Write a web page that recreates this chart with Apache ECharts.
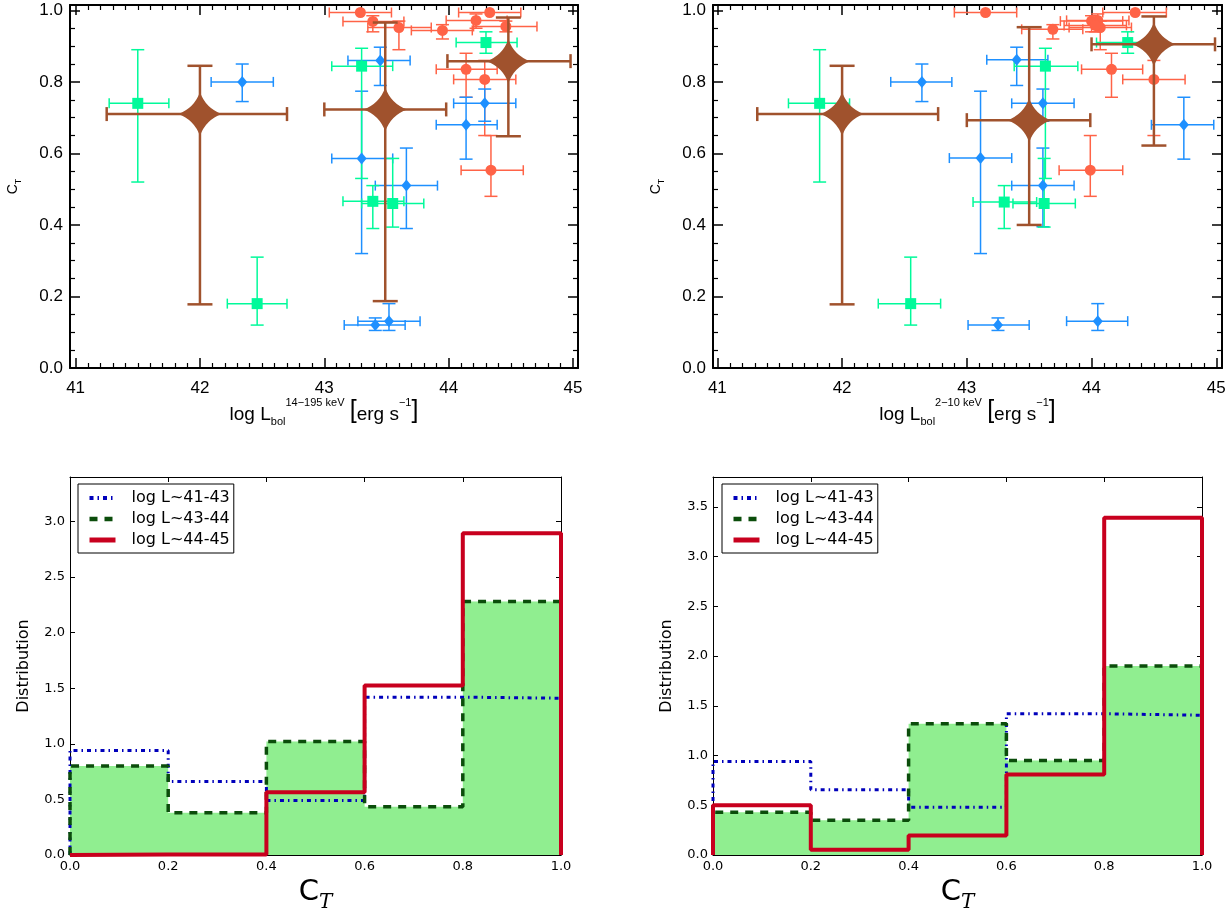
<!DOCTYPE html>
<html><head><meta charset="utf-8">
<script src="https://cdn.jsdelivr.net/npm/echarts/dist/echarts.min.js"></script>
<style>html,body{margin:0;padding:0;background:#fff}#c{width:1230px;height:914px}</style>
</head><body><div id="c"></div>
<script>
// ---------- DATA ----------
// scatter rows: [x, y, xLow, xHigh, yLow, yHigh]
const tlRed = [
  [43.29,0.994,43.04,43.54,0.994,0.994],[43.39,0.969,43.15,43.64,0.94,0.985],
  [43.60,0.952,43.35,43.86,0.89,0.97],[43.95,0.944,43.70,44.19,0.92,0.96],
  [44.33,0.994,44.08,44.58,0.994,0.994],[44.22,0.972,43.98,44.47,0.95,0.99],
  [44.46,0.955,44.20,44.71,0.94,0.97],[44.14,0.835,43.90,44.39,0.757,0.88],
  [44.29,0.807,44.04,44.54,0.65,0.86],[44.34,0.553,44.10,44.60,0.48,0.65]
];
const tlBlue = [
  [42.34,0.80,42.09,42.59,0.745,0.85],[43.45,0.86,43.19,43.69,0.79,0.897],
  [43.30,0.586,43.06,43.55,0.32,0.774],[43.66,0.51,43.41,43.91,0.39,0.615],
  [43.41,0.12,43.16,43.65,0.105,0.14],[43.52,0.131,43.27,43.77,0.105,0.18],
  [44.14,0.68,43.90,44.39,0.584,0.757],[44.29,0.74,44.04,44.54,0.69,0.78]
];
const tlGreen = [
  [41.50,0.74,41.27,41.75,0.52,0.89],[42.46,0.18,42.22,42.70,0.12,0.31],
  [43.30,0.844,43.06,43.55,0.53,0.894],[43.39,0.466,43.15,43.64,0.39,0.51],
  [43.55,0.46,43.30,43.80,0.394,0.586],[44.30,0.91,44.06,44.55,0.88,0.94]
];
const tlBrown = [
  [42.00,0.71,41.25,42.70,0.178,0.845],[43.49,0.723,43.00,43.98,0.187,0.966],
  [44.48,0.858,43.99,44.98,0.648,0.98]
];
const trRed = [
  [43.15,0.994,42.90,43.40,0.994,0.994],[43.69,0.947,43.44,43.93,0.92,0.96],
  [44.00,0.970,43.75,44.25,0.94,0.985],[44.05,0.972,43.80,44.30,0.95,0.99],
  [44.07,0.952,43.82,44.32,0.89,0.97],[44.03,0.958,43.78,44.28,0.94,0.97],
  [44.35,0.994,44.09,44.60,0.994,0.994],[44.16,0.835,43.92,44.41,0.757,0.88],
  [44.50,0.807,44.25,44.75,0.65,0.86],[43.99,0.553,43.74,44.25,0.48,0.65]
];
const trBlue = [
  [42.64,0.80,42.39,42.88,0.745,0.85],[43.40,0.862,43.16,43.65,0.79,0.897],
  [43.11,0.587,42.86,43.36,0.32,0.774],[43.61,0.51,43.36,43.86,0.395,0.615],
  [43.25,0.12,43.01,43.50,0.105,0.14],[44.05,0.131,43.80,44.29,0.105,0.18],
  [44.74,0.68,44.48,44.98,0.584,0.757],[43.61,0.74,43.36,43.86,0.69,0.78]
];
const trGreen = [
  [41.82,0.74,41.57,42.06,0.52,0.89],[42.55,0.18,42.29,42.79,0.12,0.31],
  [43.63,0.844,43.38,43.89,0.53,0.894],[43.30,0.464,43.05,43.56,0.39,0.51],
  [43.62,0.46,43.37,43.87,0.394,0.586],[44.29,0.91,44.04,44.54,0.88,0.94]
];
const trBrown = [
  [42.00,0.71,41.32,42.77,0.178,0.845],[43.50,0.693,43.00,43.99,0.40,0.953],
  [44.50,0.905,44.00,44.99,0.622,0.983]
];
// histograms
const binEdges = [0, 0.2, 0.4, 0.6, 0.8, 1.0];
const blHist41_43 = [0.94, 0.66, 0.49, 1.42, 1.41];
const blHist43_44 = [0.80, 0.38, 1.02, 0.435, 2.28];
const blHist44_45 = [0.005, 0.005, 0.565, 1.525, 2.895];
const brHist41_43 = [0.94, 0.655, 0.48, 1.42, 1.405];
const brHist43_44 = [0.43, 0.35, 1.32, 0.95, 1.90];
const brHist44_45 = [0.50, 0.053, 0.196, 0.81, 3.39];
// ticks
const topXTicks = [41, 42, 43, 44, 45];
const topYTicks = [0, 0.2, 0.4, 0.6, 0.8, 1.0];
const seriesNames = ['log L~41-43', 'log L~43-44', 'log L~44-45'];

// ---------- HELPERS ----------
const topXMinor = [], topYMinor = [];
for (let i = 410; i <= 450; i++) if (i % 10) topXMinor.push(i / 10);
for (let i = 0; i <= 20; i++) if (i % 4) topYMinor.push(i / 20);

const TF = 'Liberation Sans';
const BF = 'DejaVu Sans';
const HC = {blue: '#0000bb', green: '#0b4d0b', red: '#c8001e', fill: '#90ee90'};
const HDASH = {blue: [4, 4, 1.5, 4], green: [8, 7]};

function topAxes(gi, xName) {
  const xmin = gi === 0 ? 40.955 : 40.965;
  const xmax = gi === 0 ? 45.04 : 45.046;
  const base = {gridIndex: gi, type: 'value', min: xmin, max: xmax, splitLine: {show: false}};
  const xs = [
    Object.assign({}, base, {position: 'bottom',
      axisLine: {onZero: false, lineStyle: {color: '#000', width: 2}},
      axisTick: {inside: true, length: 10, customValues: topXTicks, lineStyle: {color: '#000', width: 1.5}},
      axisLabel: {customValues: topXTicks, fontSize: 17, fontFamily: TF, color: '#000', margin: 12},
      name: xName, nameLocation: 'middle', nameGap: 29,
      nameTextStyle: {rich: {
        n: {fontSize: 19, fontFamily: TF, color: '#000', lineHeight: 24, verticalAlign: 'bottom'},
        sub: {fontSize: 11, fontFamily: TF, color: '#000', verticalAlign: 'bottom', lineHeight: 12, padding: [0,0,-4,0]},
        sup: {fontSize: 11, fontFamily: TF, color: '#000', verticalAlign: 'top', lineHeight: 12},
        br: {fontSize: 25, fontFamily: TF, color: '#000', lineHeight: 26, verticalAlign: 'bottom'}
      }}
    }),
    Object.assign({}, base, {position: 'top',
      axisLine: {onZero: false, lineStyle: {color: '#000', width: 2}},
      axisTick: {inside: true, length: 10, customValues: topXTicks, lineStyle: {color: '#000', width: 1.5}},
      axisLabel: {show: false, customValues: topXTicks}}),
    Object.assign({}, base, {position: 'bottom', axisLine: {show: false, onZero: false},
      axisTick: {inside: true, length: 5, customValues: topXMinor, lineStyle: {color: '#000', width: 1.2}},
      axisLabel: {show: false, customValues: topXMinor}}),
    Object.assign({}, base, {position: 'top', axisLine: {show: false, onZero: false},
      axisTick: {inside: true, length: 5, customValues: topXMinor, lineStyle: {color: '#000', width: 1.2}},
      axisLabel: {show: false, customValues: topXMinor}})
  ];
  const ybase = {gridIndex: gi, type: 'value', min: 0, max: 1.015, splitLine: {show: false}};
  const ys = [
    Object.assign({}, ybase, {position: 'left',
      axisLine: {onZero: false, lineStyle: {color: '#000', width: 2}},
      axisTick: {inside: true, length: 10, customValues: topYTicks, lineStyle: {color: '#000', width: 1.5}},
      axisLabel: {customValues: topYTicks, fontSize: 17, fontFamily: TF, color: '#000', margin: 7,
        formatter: v => v.toFixed(1)},
      name: '{c|C}{t|T}', nameLocation: 'middle', nameGap: 50, nameRotate: 90,
      nameTextStyle: {rich: {
        c: {fontSize: 14, fontFamily: TF, color: '#000', lineHeight: 16, verticalAlign: 'bottom'},
        t: {fontSize: 9, fontFamily: TF, color: '#000', lineHeight: 10, verticalAlign: 'bottom', padding: [0,0,-3,0]}
      }}
    }),
    Object.assign({}, ybase, {position: 'right',
      axisLine: {onZero: false, lineStyle: {color: '#000', width: 2}},
      axisTick: {inside: true, length: 10, customValues: topYTicks, lineStyle: {color: '#000', width: 1.5}},
      axisLabel: {show: false, customValues: topYTicks}}),
    Object.assign({}, ybase, {position: 'left', axisLine: {show: false, onZero: false},
      axisTick: {inside: true, length: 5, customValues: topYMinor, lineStyle: {color: '#000', width: 1.2}},
      axisLabel: {show: false, customValues: topYMinor}}),
    Object.assign({}, ybase, {position: 'right', axisLine: {show: false, onZero: false},
      axisTick: {inside: true, length: 5, customValues: topYMinor, lineStyle: {color: '#000', width: 1.2}},
      axisLabel: {show: false, customValues: topYMinor}})
  ];
  return {xs, ys};
}

function botAxes(gi, ymax) {
  const xb = {gridIndex: gi, type: 'value', min: 0, max: 1, interval: 0.2, splitLine: {show: false}};
  const yb = {gridIndex: gi, type: 'value', min: 0, max: ymax, interval: 0.5, splitLine: {show: false}};
  const line = {onZero: false, lineStyle: {color: '#000', width: 1}};
  const tick = {inside: true, length: 5, lineStyle: {color: '#000', width: 1}};
  const xs = [
    Object.assign({}, xb, {position: 'bottom', axisLine: line, axisTick: tick,
      axisLabel: {fontSize: 13, fontFamily: BF, color: '#000', margin: 5, formatter: v => v.toFixed(1)},
      name: '{c|C}{t|T}', nameLocation: 'middle', nameGap: 20,
      nameTextStyle: {rich: {
        c: {fontSize: 29, fontFamily: BF, color: '#000', lineHeight: 32, verticalAlign: 'bottom'},
        t: {fontSize: 20, fontFamily: 'DejaVu Serif', fontStyle: 'italic', color: '#000', lineHeight: 20, verticalAlign: 'bottom', padding: [0,0,-6,0]}
      }}}),
    Object.assign({}, xb, {position: 'top', axisLine: line, axisTick: tick, axisLabel: {show: false}})
  ];
  const ys = [
    Object.assign({}, yb, {position: 'left', axisLine: line, axisTick: tick,
      axisLabel: {fontSize: 13, fontFamily: BF, color: '#000', margin: 5, showMaxLabel: false,
        formatter: v => v.toFixed(1)},
      name: 'Distribution', nameLocation: 'middle', nameGap: 38, nameRotate: 90,
      nameTextStyle: {fontSize: 16, fontFamily: BF, color: '#000'}}),
    Object.assign({}, yb, {position: 'right', axisLine: line, axisTick: tick, axisLabel: {show: false}})
  ];
  return {xs, ys};
}

function errRender(color, width, capH, capW) {
  return function (params, api) {
    const x = api.value(0), y = api.value(1);
    const c = api.coord([x, y]);
    const xl = api.coord([api.value(2), y])[0];
    const xh = api.coord([api.value(3), y])[0];
    const yl = api.coord([x, api.value(4)])[1];
    const yh = api.coord([x, api.value(5)])[1];
    const st = {stroke: color, lineWidth: width};
    const h = capH / 2, w = capW / 2;
    const ch = [
      {type: 'line', shape: {x1: xl, y1: c[1], x2: xh, y2: c[1]}, style: st},
      {type: 'line', shape: {x1: xl, y1: c[1] - h, x2: xl, y2: c[1] + h}, style: st},
      {type: 'line', shape: {x1: xh, y1: c[1] - h, x2: xh, y2: c[1] + h}, style: st}
    ];
    if (Math.abs(yl - yh) > 0.5) {
      ch.push({type: 'line', shape: {x1: c[0], y1: yl, x2: c[0], y2: yh}, style: st});
      ch.push({type: 'line', shape: {x1: c[0] - w, y1: yl, x2: c[0] + w, y2: yl}, style: st});
      ch.push({type: 'line', shape: {x1: c[0] - w, y1: yh, x2: c[0] + w, y2: yh}, style: st});
    }
    return {type: 'group', children: ch};
  };
}

const STAR = 'path://M0,-50 Q13,-13 50,0 Q13,13 0,50 Q-13,13 -50,0 Q-13,-13 0,-50 Z';
const COL = {red: '#ff6347', blue: '#1e90ff', green: '#00fa9a', brown: '#a0522d'};

function topSeries(gi, red, blue, green, brown) {
  const ax = {xAxisIndex: gi * 4, yAxisIndex: gi * 4};
  const s = [];
  [[red, COL.red], [blue, COL.blue], [green, COL.green]].forEach(([d, col]) => {
    s.push(Object.assign({type: 'custom', renderItem: errRender(col, 1.5, 10, 13), data: d,
      encode: {x: 0, y: 1}, silent: true, z: 2}, ax));
  });
  s.push(Object.assign({type: 'scatter', data: red.map(r => [r[0], r[1]]), symbol: 'circle', symbolSize: 11,
    itemStyle: {color: COL.red, opacity: 1}, z: 3, silent: true}, ax));
  s.push(Object.assign({type: 'scatter', data: blue.map(r => [r[0], r[1]]), symbol: 'diamond', symbolSize: [10, 12],
    itemStyle: {color: COL.blue, opacity: 1}, z: 3, silent: true}, ax));
  s.push(Object.assign({type: 'scatter', data: green.map(r => [r[0], r[1]]), symbol: 'rect', symbolSize: 11,
    itemStyle: {color: COL.green, opacity: 1}, z: 3, silent: true}, ax));
  s.push(Object.assign({type: 'custom', renderItem: errRender(COL.brown, 2.5, 14, 25), data: brown,
    encode: {x: 0, y: 1}, silent: true, z: 4}, ax));
  s.push(Object.assign({type: 'scatter', data: brown.map(r => [r[0], r[1]]), symbol: STAR, symbolSize: 44,
    itemStyle: {color: COL.brown, opacity: 1}, z: 5, silent: true}, ax));
  return s;
}

function stepPts(vals) {
  const pts = [[binEdges[0], 0]];
  vals.forEach((v, i) => { pts.push([binEdges[i], v]); pts.push([binEdges[i + 1], v]); });
  pts.push([binEdges[binEdges.length - 1], 0]);
  return pts;
}

function botSeries(gi, h1, h2, h3) {
  const xi = 8 + (gi - 2) * 2, yi = 8 + (gi - 2) * 2;
  const base = {type: 'line', xAxisIndex: xi, yAxisIndex: yi, symbol: 'none', showSymbol: false, silent: true, animation: false};
  return [
    Object.assign({}, base, {name: 'fill' + gi, data: stepPts(h2), lineStyle: {width: 0}, areaStyle: {color: HC.fill, opacity: 1}, z: 1}),
    Object.assign({}, base, {name: seriesNames[0], data: stepPts(h1), color: HC.blue,
      lineStyle: {color: HC.blue, width: 3, type: HDASH.blue}, z: 2}),
    Object.assign({}, base, {name: seriesNames[1], data: stepPts(h2), color: HC.green,
      lineStyle: {color: HC.green, width: 3.5, type: HDASH.green}, z: 3}),
    Object.assign({}, base, {name: seriesNames[2], data: stepPts(h3), color: HC.red,
      lineStyle: {color: HC.red, width: 4}, z: 4})
  ];
}

const tl = topAxes(0, '{n|log L}{sub|bol}{sup|14\u2212195 keV}{n| }{br|[}{n|erg s}{sup|\u22121}{br|]}');
const tr = topAxes(1, '{n|log L}{sub|bol}{sup|2\u221210 keV}{n| }{br|[}{n|erg s}{sup|\u22121}{br|]}');
const bl = botAxes(2, 3.4);
const br = botAxes(3, 3.8);

const noSym = {color: 'rgba(0,0,0,0)', borderColor: 'rgba(0,0,0,0)', borderWidth: 0, opacity: 0};
const legendData = [
  {name: seriesNames[0], itemStyle: noSym, lineStyle: {color: HC.blue, width: 4, type: HDASH.blue, opacity: 1}},
  {name: seriesNames[1], itemStyle: noSym, lineStyle: {color: HC.green, width: 4.5, type: HDASH.green, opacity: 1}},
  {name: seriesNames[2], itemStyle: noSym, lineStyle: {color: HC.red, width: 5, type: 'solid', opacity: 1}}
];
const legendBase = {orient: 'vertical', data: legendData, backgroundColor: '#fff',
  borderColor: '#000', borderWidth: 1, borderRadius: 0, padding: [6, 4, 5, 9], itemGap: 5,
  itemWidth: 26, itemHeight: 18, selectedMode: false,
  textStyle: {fontSize: 16, fontFamily: BF, color: '#000', padding: [0, 0, 0, 11]}};

const option = {
  animation: false,
  backgroundColor: '#fff',
  grid: [
    {left: 70, top: 5, width: 508, height: 363},
    {left: 713, top: 5, width: 509, height: 363},
    {left: 70, top: 477, width: 491, height: 381},
    {left: 713, top: 477, width: 489, height: 381}
  ],
  xAxis: [].concat(tl.xs, tr.xs, bl.xs, br.xs),
  yAxis: [].concat(tl.ys, tr.ys, bl.ys, br.ys),
  legend: [
    Object.assign({}, legendBase, {left: 78, top: 484}),
    Object.assign({}, legendBase, {left: 722, top: 484})
  ],
  series: [].concat(
    topSeries(0, tlRed, tlBlue, tlGreen, tlBrown),
    topSeries(1, trRed, trBlue, trGreen, trBrown),
    botSeries(2, blHist41_43, blHist43_44, blHist44_45),
    botSeries(3, brHist41_43, brHist43_44, brHist44_45)
  )
};
const chart = echarts.init(document.getElementById('c'), null, {renderer: 'canvas'});
chart.setOption(option);
</script></body></html>
